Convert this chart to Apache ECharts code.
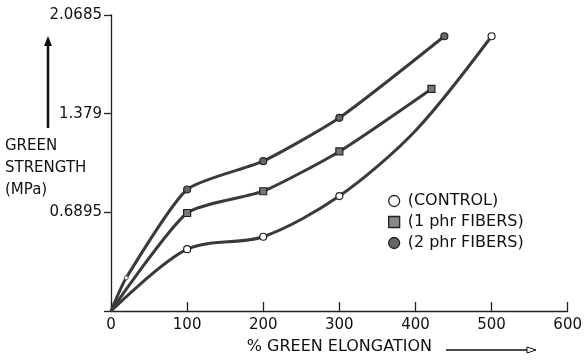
<!DOCTYPE html>
<html>
<head>
<meta charset="utf-8">
<script src="https://cdn.jsdelivr.net/npm/echarts@6/dist/echarts.min.js"></script>
<style>html,body{margin:0;padding:0;background:#fff}#c{width:585px;height:360px}</style>
</head>
<body>
<div id="c"></div>
<script>
// ---- data ----
const seriesNames = ['(CONTROL)', '(1 phr FIBERS)', '(2 phr FIBERS)'];
// points with a marker in the reference
const controlData = [[0, 0], [100, 0.432], [200, 0.519], [300, 0.803], [500, 1.92]];
const fiber1Data  = [[0, 0], [100, 0.685], [200, 0.837], [300, 1.115], [421, 1.552]];
const fiber2Data  = [[0, 0], [20, 0.232], [100, 0.849], [200, 1.047], [300, 1.350], [438, 1.92]];
// extra point (no marker there)
const controlCurveX = 400;
const controlCurveY = 1.26;
const xTicks = [0, 100, 200, 300, 400, 500, 600];
const yTickLabels = ['0.6895', '1.379', '2.0685'];
const yStep = 0.6895;

const FONT = 'DejaVu Sans';
const INK = '#3a3a3a';

function toSeriesData(arr, hidden) {
  const pts = arr.map((p, i) => {
    if (i === 0) return { value: p, symbol: 'none' };
    if (p[0] === 20) return { value: p, symbolSize: 4, itemStyle: { color: '#fff', borderColor: '#555', borderWidth: 1 } };
    return { value: p };
  });
  if (hidden) {
    pts.push({ value: hidden, symbol: 'none' });
    pts.sort((a, b) => a.value[0] - b.value[0]);
  }
  return pts;
}

const chart = echarts.init(document.getElementById('c'), null, { renderer: 'canvas' });

function makeSeries(name, data, symbol, symColor, smooth, hidden) {
  return {
    name: name,
    type: 'line',
    data: toSeriesData(data, hidden),
    smooth: smooth,
    symbol: symbol,
    symbolSize: 7,
    showAllSymbol: true,
    lineStyle: { color: INK, width: 3 },
    itemStyle: { color: symColor, borderColor: '#222', borderWidth: 1.2 },
    z: 3
  };
}

chart.setOption({
  backgroundColor: '#fff',
  animation: false,
  grid: { left: 111, right: 14, top: 15, bottom: 41, containLabel: false },
  xAxis: {
    type: 'value',
    min: xTicks[0],
    max: xTicks[xTicks.length - 1],
    interval: 100,
    axisLine: { show: true, lineStyle: { color: '#222', width: 1.3 } },
    axisTick: { show: true, inside: true, length: 9, lineStyle: { color: '#222', width: 1.3 } },
    axisLabel: { fontFamily: FONT, fontSize: 15, color: '#111', margin: 7 },
    splitLine: { show: false },
    name: '% GREEN ELONGATION',
    nameLocation: 'middle',
    nameGap: 28,
    nameTextStyle: { fontFamily: FONT, fontSize: 16, color: '#111', padding: [0, 0, 0, 0] }
  },
  yAxis: {
    type: 'value',
    min: 0,
    max: yStep * 3,
    interval: yStep,
    axisLine: { show: true, lineStyle: { color: '#222', width: 1.3 } },
    axisTick: { show: true, inside: false, length: 7, lineStyle: { color: '#222', width: 1.3 } },
    axisLabel: {
      fontFamily: FONT, fontSize: 15, color: '#111', margin: 9,
      formatter: function (v) {
        const idx = Math.round(v / yStep) - 1;
        return idx >= 0 && idx < yTickLabels.length ? yTickLabels[idx] : '';
      }
    },
    splitLine: { show: false }
  },
  legend: {
    orient: 'vertical',
    left: 388,
    top: 193,
    padding: 0,
    itemWidth: 11,
    itemHeight: 11,
    itemGap: 5,
    textStyle: { fontFamily: FONT, fontSize: 16, color: '#111', padding: [0, 0, 0, 3], lineHeight: 16 },
    data: [
      { name: seriesNames[0], icon: 'circle', itemStyle: { color: '#fff', borderColor: '#222', borderWidth: 1.3 } },
      { name: seriesNames[1], icon: 'rect', itemStyle: { color: '#888', borderColor: '#222', borderWidth: 1.3 } },
      { name: seriesNames[2], icon: 'circle', itemStyle: { color: '#666', borderColor: '#222', borderWidth: 1.3 } }
    ]
  },
  series: [
    makeSeries(seriesNames[0], controlData, 'circle', '#fff', 0.3, [controlCurveX, controlCurveY]),
    makeSeries(seriesNames[1], fiber1Data, 'rect', '#777', 0.2),
    makeSeries(seriesNames[2], fiber2Data, 'circle', '#666', 0.2)
  ],
  graphic: [
    {
      type: 'text', left: 5, top: 135,
      style: { text: 'GREEN\nSTRENGTH\n(MPa)', fontFamily: FONT, fontSize: 15, fill: '#111', lineHeight: 22 }
    },
    {
      type: 'line', shape: { x1: 48, y1: 128, x2: 48, y2: 42 },
      style: { stroke: '#111', lineWidth: 2.5 }
    },
    {
      type: 'polygon', shape: { points: [[48, 36], [44, 46], [52, 46]] },
      style: { fill: '#111' }
    },
    {
      type: 'line', shape: { x1: 446, y1: 350, x2: 528, y2: 350 },
      style: { stroke: '#111', lineWidth: 1.5 }
    },
    {
      type: 'polygon', shape: { points: [[527, 347], [536, 350], [527, 353]] },
      style: { fill: '#fff', stroke: '#111', lineWidth: 1 }
    }
  ]
});
</script>
</body>
</html>
